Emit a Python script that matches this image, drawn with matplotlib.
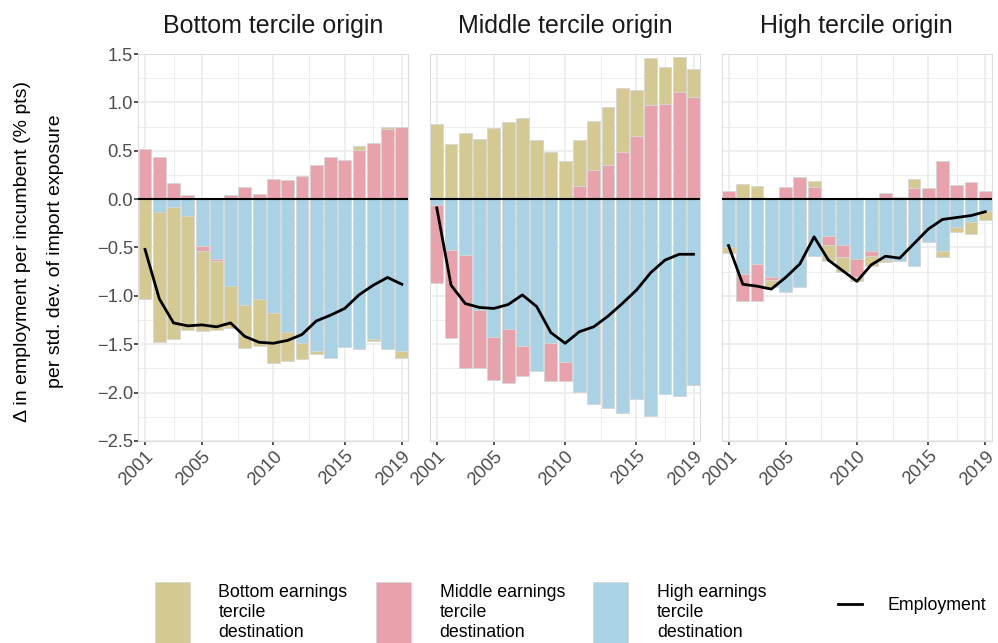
import numpy as np
import matplotlib
matplotlib.use("Agg")
import matplotlib.pyplot as plt
from matplotlib.patches import Patch
from matplotlib.lines import Line2D
from matplotlib.ticker import MultipleLocator, FixedLocator, FuncFormatter

plt.rcParams['font.family'] = ['Liberation Sans', 'DejaVu Sans']

years = np.arange(2001, 2020)
panel_titles = ["Bottom tercile origin", "Middle tercile origin", "High tercile origin"]
dest_labels = ["Bottom earnings\ntercile\ndestination",
               "Middle earnings\ntercile\ndestination",
               "High earnings\ntercile\ndestination"]
dest_colors = ["#D5C992", "#E8A2AC", "#A9D2E5"]

# bottom tercile origin
bot_to_bot = [-1.03, -1.35, -1.37, -1.18, -0.82, -0.71, -0.43, -0.45, -0.49, -0.51,
              -0.30, -0.16, -0.03, 0.0, 0.0, 0.04, -0.02, 0.03, -0.07]
bot_to_mid = [0.52, 0.44, 0.17, 0.04, -0.06, -0.02, 0.04, 0.13, 0.05, 0.21,
              0.20, 0.24, 0.35, 0.44, 0.40, 0.51, 0.58, 0.72, 0.75]
bot_to_high = [0.0, -0.13, -0.08, -0.17, -0.48, -0.62, -0.90, -1.09, -1.03, -1.18,
               -1.37, -1.49, -1.57, -1.64, -1.53, -1.55, -1.45, -1.55, -1.57]
bot_emp = [-0.52, -1.03, -1.28, -1.31, -1.30, -1.32, -1.28, -1.42, -1.48, -1.49,
           -1.46, -1.40, -1.26, -1.20, -1.13, -0.99, -0.89, -0.81, -0.88]

# middle tercile origin
mid_to_bot = [0.78, 0.57, 0.68, 0.62, 0.74, 0.80, 0.84, 0.59, 0.49, 0.39,
              0.47, 0.51, 0.60, 0.66, 0.48, 0.49, 0.39, 0.36, 0.29]
mid_to_mid = [-0.81, -0.91, -1.17, -0.60, -0.44, -0.56, -0.31, 0.02, -0.39, -0.20,
              0.14, 0.30, 0.35, 0.49, 0.65, 0.97, 0.98, 1.11, 1.06]
mid_to_high = [-0.06, -0.53, -0.58, -1.15, -1.43, -1.34, -1.52, -1.78, -1.49, -1.68,
               -1.99, -2.12, -2.16, -2.21, -2.07, -2.24, -2.01, -2.03, -1.92]
mid_emp = [-0.09, -0.89, -1.08, -1.12, -1.13, -1.09, -0.99, -1.11, -1.38, -1.49,
           -1.37, -1.32, -1.21, -1.08, -0.94, -0.76, -0.63, -0.57, -0.57]

# high tercile origin
high_to_bot = [-0.06, 0.16, 0.14, -0.07, 0.0, 0.0, 0.06, -0.17, -0.15, -0.04,
               -0.10, -0.02, 0.0, 0.10, 0.0, -0.06, -0.05, -0.12, -0.10]
high_to_mid = [0.08, -0.28, -0.38, -0.03, 0.13, 0.23, 0.13, -0.09, -0.13, -0.19,
               -0.05, 0.06, 0.02, 0.11, 0.12, 0.39, 0.15, 0.18, 0.08]
high_to_high = [-0.50, -0.77, -0.67, -0.81, -0.96, -0.91, -0.59, -0.38, -0.47, -0.62,
                -0.54, -0.63, -0.64, -0.69, -0.44, -0.54, -0.29, -0.24, -0.12]
high_emp = [-0.48, -0.88, -0.90, -0.93, -0.81, -0.67, -0.39, -0.63, -0.74, -0.85,
            -0.68, -0.59, -0.61, -0.46, -0.31, -0.21, -0.19, -0.17, -0.13]

panels = [
    ([bot_to_bot, bot_to_mid, bot_to_high], bot_emp),
    ([mid_to_bot, mid_to_mid, mid_to_high], mid_emp),
    ([high_to_bot, high_to_mid, high_to_high], high_emp),
]

fig, axes = plt.subplots(1, 3, figsize=(9.98, 6.43), dpi=100, sharey=True)
fig.subplots_adjust(left=0.1386, right=0.9937, top=0.916, bottom=0.3142, wspace=0.081)

for ax, title, (comps, emp) in zip(axes, panel_titles, panels):
    pos_base = np.zeros(len(years))
    neg_base = np.zeros(len(years))
    # stack high first (closest to zero), then middle, then bottom
    for k in [2, 1, 0]:
        vals = np.array(comps[k])
        pos = vals > 0
        neg = vals < 0
        ax.bar(years[pos], vals[pos], bottom=pos_base[pos], width=0.9,
               color=dest_colors[k], edgecolor="#d6d6d6", linewidth=0.6, zorder=2)
        ax.bar(years[neg], vals[neg], bottom=neg_base[neg], width=0.9,
               color=dest_colors[k], edgecolor="#d6d6d6", linewidth=0.6, zorder=2)
        pos_base = pos_base + np.where(pos, vals, 0)
        neg_base = neg_base + np.where(neg, vals, 0)
    ax.axhline(0, color="black", lw=1.5, zorder=3)
    ax.plot(years, emp, color="black", lw=2.0, zorder=4)

    ax.set_xlim(2000.53, 2019.45)
    ax.set_ylim(-2.5, 1.5)
    ax.yaxis.set_major_locator(MultipleLocator(0.5))
    ax.yaxis.set_minor_locator(MultipleLocator(0.25))
    ax.yaxis.set_major_formatter(FuncFormatter(lambda v, p: f"{v:.1f}".replace("-", "\u2212")))
    ax.xaxis.set_major_locator(FixedLocator([2001, 2005, 2010, 2015, 2019]))
    ax.xaxis.set_minor_locator(FixedLocator([2003, 2007.5, 2012.5, 2017]))
    ax.set_axisbelow(True)
    ax.grid(which="major", color="#ebebeb", lw=1.2, zorder=0)
    ax.grid(which="minor", color="#ebebeb", lw=0.6, zorder=0)
    for s in ax.spines.values():
        s.set_color("#dcdcdc")
        s.set_linewidth(0.8)
    ax.tick_params(which="minor", length=0)
    ax.tick_params(which="major", length=3.2, width=1.2, color="#333333",
                   labelcolor="#4d4d4d", labelsize=13.2, pad=1.5)
    ax.tick_params(axis="y", pad=0.8)
    for lab in ax.get_xticklabels():
        lab.set_rotation(45)
        lab.set_ha("right")
        lab.set_va("top")
        lab.set_rotation_mode("anchor")
    ax.text(0.5, 1.072, title, transform=ax.transAxes, ha="center", va="center",
            fontsize=18, color="#1a1a1a")

for ax in axes[1:]:
    ax.tick_params(axis="y", left=False, labelleft=False)

fig.text(39 / 998, 1 - 251 / 643,
         "\u0394 in employment per incumbent (% pts)\nper std. dev. of import exposure",
         rotation=90, ha="center", va="center", fontsize=14, linespacing=2.2,
         color="black")

patch_handles = [Patch(facecolor=c, edgecolor="#d6d6d6", linewidth=0.6) for c in dest_colors]
leg1 = fig.legend(patch_handles, dest_labels, loc="upper left",
                  bbox_to_anchor=(155 / 998, (643 - 582) / 643),
                  ncol=3, frameon=False, fontsize=12.8, handlelength=1.97,
                  handleheight=5.3, handletextpad=1.6, columnspacing=1.6,
                  borderpad=0, borderaxespad=0)
for t in leg1.get_texts():
    t.set_linespacing(1.25)
leg2 = fig.legend([Line2D([0], [0], color="black", lw=2.0)], ["Employment"],
                  loc="upper left", bbox_to_anchor=(838 / 998, (643 - 597) / 643),
                  frameon=False, fontsize=12.8, handlelength=1.35,
                  handletextpad=1.46, borderpad=0, borderaxespad=0)

fig.savefig("out.png", dpi=100)
